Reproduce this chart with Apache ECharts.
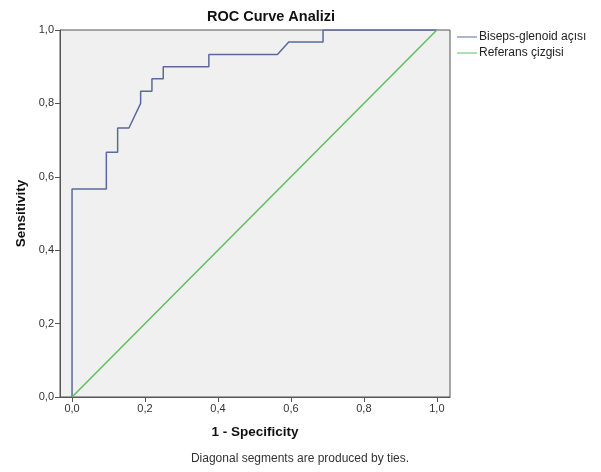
<!DOCTYPE html>
<html>
<head>
<meta charset="utf-8">
<script src="https://cdn.jsdelivr.net/npm/echarts@6/dist/echarts.min.js"></script>
<style>
  html, body { margin: 0; padding: 0; background: #fff; }
  #chart { width: 601px; height: 472px; }
</style>
</head>
<body>
<div id="chart"></div>
<script>
// ROC curve points: [1 - specificity, sensitivity]
var rocCurve = [
  [0, 0], [0, 0.567], [0.094, 0.567], [0.094, 0.667], [0.125, 0.667],
  [0.125, 0.733], [0.156, 0.733], [0.188, 0.8], [0.188, 0.833],
  [0.219, 0.833], [0.219, 0.867], [0.25, 0.867], [0.25, 0.9],
  [0.375, 0.9], [0.375, 0.933], [0.563, 0.933], [0.594, 0.967],
  [0.688, 0.967], [0.688, 1], [1, 1]
];
var referenceLine = [[0, 0], [1, 1]];
var tickValues = [0, 0.2, 0.4, 0.6, 0.8, 1];
var seriesNames = ["Biseps-glenoid açısı", "Referans çizgisi"];

var chart = echarts.init(document.getElementById("chart"));

function fmt(v) {
  return v.toFixed(1).replace(".", ",");
}

var option = {
  animation: false,
  textStyle: { fontFamily: "Liberation Sans, Arial, sans-serif" },
  title: {
    text: "ROC Curve Analizi",
    left: 266,
    top: 4,
    textAlign: "center",
    textStyle: { fontSize: 14.5, fontWeight: "bold", color: "#111" }
  },
  legend: {
    orient: "vertical",
    left: 452,
    top: 26,
    itemGap: 4,
    itemWidth: 20,
    itemHeight: 1,
    icon: "rect",
    data: seriesNames,
    textStyle: { fontSize: 12, color: "#222", padding: [0, 0, 0, -3] }
  },
  grid: {
    left: 60,
    right: 151,
    top: 30,
    bottom: 75,
    show: true,
    backgroundColor: "#f0f0f0",
    borderColor: "#555",
    borderWidth: 1
  },
  xAxis: {
    type: "value",
    min: -0.033,
    max: 1.036,
    name: "1 - Specificity",
    nameLocation: "middle",
    nameGap: 28,
    nameTextStyle: { fontSize: 13.5, fontWeight: "bold", color: "#111" },
    axisLine: { show: true, lineStyle: { color: "#555" } },
    axisTick: { show: true, length: 5, customValues: tickValues, lineStyle: { color: "#555" } },
    axisLabel: { customValues: tickValues, formatter: fmt, fontSize: 11, color: "#333", margin: 6 },
    splitLine: { show: false }
  },
  yAxis: {
    type: "value",
    min: 0,
    max: 1,
    name: "Sensitivity",
    nameLocation: "middle",
    nameGap: 30,
    nameTextStyle: { fontSize: 13.5, fontWeight: "bold", color: "#111" },
    axisLine: { show: true, onZero: false, lineStyle: { color: "#555" } },
    axisTick: { show: true, length: 5, customValues: tickValues, lineStyle: { color: "#555" } },
    axisLabel: { customValues: tickValues, formatter: fmt, fontSize: 11, color: "#333", margin: 6 },
    splitLine: { show: false }
  },
  graphic: [
    {
      type: "text",
      x: 300,
      y: 453,
      style: {
        text: "Diagonal segments are produced by ties.",
        fontSize: 12,
        fill: "#333",
        fontFamily: "Liberation Sans, Arial, sans-serif",
        align: "center",
        textAlign: "center"
      }
    }
  ],
  series: [
    {
      name: seriesNames[0],
      type: "line",
      data: rocCurve,
      showSymbol: false,
      color: "#5a6a9c",
      lineStyle: { width: 1.5, color: "#5a6a9c" }
    },
    {
      name: seriesNames[1],
      type: "line",
      data: referenceLine,
      showSymbol: false,
      color: "#5cbf5c",
      lineStyle: { width: 1.5, color: "#5cbf5c" }
    }
  ]
};

chart.setOption(option);
</script>
</body>
</html>
